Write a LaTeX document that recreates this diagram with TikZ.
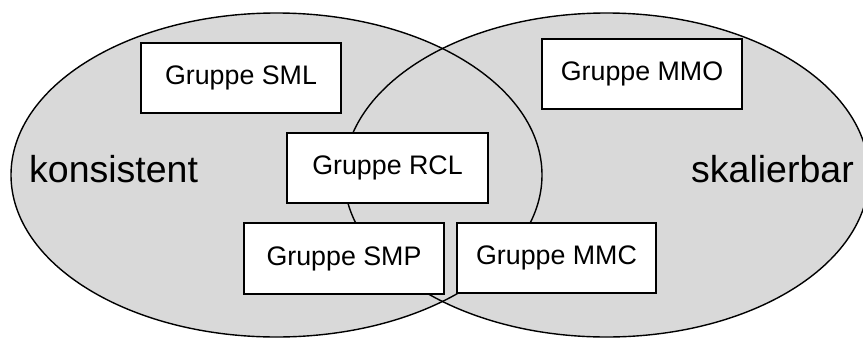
\documentclass[tikz,border=0pt]{standalone}
\usepackage{fontspec}
\setmainfont{Liberation Sans}
\definecolor{setgray}{RGB}{217,217,217}
\begin{document}
\begin{tikzpicture}[x=1pt,y=-1pt,
  setline/.style={draw=black,line width=1.4pt},
  groupbox/.style={setline,fill=white,rectangle,inner sep=0pt,
    font=\fontsize{26.8}{30}\selectfont},
  setlabel/.style={inner sep=0pt,font=\fontsize{37.5}{42}\selectfont}]
  \useasboundingbox (0,0) rectangle (863,338);
  \begin{scope}
    \clip (0,0) rectangle (863,338);
    % the two sets: fills first, outlines on top
    \fill[setgray] (276.5,175) ellipse [x radius=265.5, y radius=162];
    \fill[setgray] (606.5,175) ellipse [x radius=262.5, y radius=162];
    \draw[setline] (276.5,175) ellipse [x radius=265.5, y radius=162];
    \draw[setline] (606.5,175) ellipse [x radius=262.5, y radius=162];
  \end{scope}
  % set labels
  \node[setlabel,anchor=base west] (kons) at (29,182) {konsistent};
  \node[setlabel,anchor=base east] (skal) at (854,182) {skalierbar};
  % groups
  \node[groupbox,minimum width=200pt,minimum height=70pt] (sml) at (241,78) {Gruppe SML};
  \node[groupbox,minimum width=200pt,minimum height=70pt] (mmo) at (642,74) {Gruppe MMO};
  \node[groupbox,minimum width=201pt,minimum height=70pt] (rcl) at (387.5,168) {Gruppe RCL};
  \node[groupbox,minimum width=200pt,minimum height=71pt] (smp) at (344,258.5) {Gruppe SMP};
  \node[groupbox,minimum width=199pt,minimum height=70pt] (mmc) at (556.5,258) {Gruppe MMC};
\end{tikzpicture}
\end{document}
